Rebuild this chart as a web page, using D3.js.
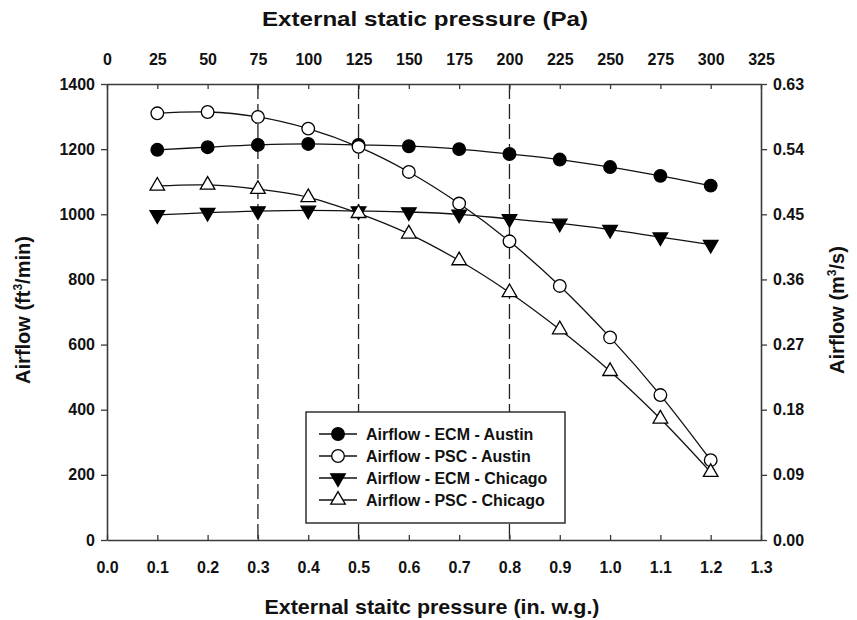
<!DOCTYPE html>
<html>
<head>
<meta charset="utf-8">
<script src="https://cdn.jsdelivr.net/npm/d3@7"></script>
<style>
  html, body { margin: 0; padding: 0; background: #fff; }
  svg text { font-family: "Liberation Sans", Arial, sans-serif; font-weight: bold; fill: #111; }
</style>
</head>
<body>
<svg id="chart" width="857" height="620"></svg>
<script>
// External static pressure (in. w.g.) at each measured point
const pressureInWG = [0.1, 0.2, 0.3, 0.4, 0.5, 0.6, 0.7, 0.8, 0.9, 1.0, 1.1, 1.2];

// Airflow (ft3/min) for each motor / climate combination
const ecmAustin   = [1198, 1206, 1213, 1216, 1213, 1209, 1200, 1185, 1168, 1145, 1118, 1088];
const pscAustin   = [1310, 1314, 1299, 1263, 1207, 1130, 1033, 917, 780, 622, 445, 245];
const ecmChicago  = [998, 1005, 1010, 1012, 1010, 1007, 1000, 986, 972, 953, 930, 907];
const pscChicago  = [1087, 1090, 1077, 1052, 1003, 940, 858, 760, 646, 518, 372, 208];

const seriesNames = ["Airflow - ECM - Austin", "Airflow - PSC - Austin",
                     "Airflow - ECM - Chicago", "Airflow - PSC - Chicago"];

// Reference pressures marked with dashed verticals
const markerPressures = [0.3, 0.5, 0.8];

// Axis ticks
const bottomTicks = [0.0, 0.1, 0.2, 0.3, 0.4, 0.5, 0.6, 0.7, 0.8, 0.9, 1.0, 1.1, 1.2, 1.3];
const topTicks = [0, 25, 50, 75, 100, 125, 150, 175, 200, 225, 250, 275, 300, 325];
const leftTicks = [0, 200, 400, 600, 800, 1000, 1200, 1400];
const rightTicks = [0, 0.09, 0.18, 0.27, 0.36, 0.45, 0.54, 0.63];

const series = [
  { name: seriesNames[0], values: ecmAustin,  symbol: "circle",   filled: true },
  { name: seriesNames[1], values: pscAustin,  symbol: "circle",   filled: false },
  { name: seriesNames[2], values: ecmChicago, symbol: "triDown",  filled: true },
  { name: seriesNames[3], values: pscChicago, symbol: "triUp",    filled: false }
];

const svg = d3.select("#chart");
const plotL = 107, plotR = 761, plotT = 84, plotB = 540;

const x = d3.scaleLinear().domain([0, 1.3]).range([plotL, plotR]);
const xPa = d3.scaleLinear().domain([0, 325]).range([plotL, plotR]);
const y = d3.scaleLinear().domain([0, 1400]).range([plotB, plotT]);
const yM = d3.scaleLinear().domain([0, 0.63]).range([plotB, plotT]);

const axisColor = "#3a3a3a";

// Dashed reference lines
svg.append("g").selectAll("line").data(markerPressures).join("line")
  .attr("x1", d => x(d)).attr("x2", d => x(d))
  .attr("y1", plotT).attr("y2", plotB)
  .attr("stroke", "#222").attr("stroke-width", 1.3)
  .attr("stroke-dasharray", "15,5");

// Axes
function styleAxis(g, fontSize) {
  g.select(".domain").attr("stroke", axisColor).attr("stroke-width", 1.6);
  g.selectAll(".tick line").attr("stroke", axisColor).attr("stroke-width", 1.3);
  g.selectAll(".tick text").attr("font-size", fontSize)
    .attr("font-family", "'Liberation Sans', Arial, sans-serif")
    .attr("font-weight", "bold").attr("fill", "#111");
}

const gBottom = svg.append("g").attr("transform", `translate(0,${plotB})`)
  .call(d3.axisBottom(x).tickValues(bottomTicks).tickFormat(d3.format(".1f"))
    .tickSizeInner(-5).tickSizeOuter(0).tickPadding(22));
styleAxis(gBottom, 16);

const gTop = svg.append("g").attr("transform", `translate(0,${plotT})`)
  .call(d3.axisTop(xPa).tickValues(topTicks).tickFormat(d3.format("d"))
    .tickSizeInner(-5).tickSizeOuter(0).tickPadding(19));
styleAxis(gTop, 16);

const gLeft = svg.append("g").attr("transform", `translate(${plotL},0)`)
  .call(d3.axisLeft(y).tickValues(leftTicks).tickFormat(d3.format("d"))
    .tickSizeInner(6).tickSizeOuter(0).tickPadding(6));
styleAxis(gLeft, 16);

const gRight = svg.append("g").attr("transform", `translate(${plotR},0)`)
  .call(d3.axisRight(yM).tickValues(rightTicks).tickFormat(d3.format(".2f"))
    .tickSizeInner(6).tickSizeOuter(0).tickPadding(6));
styleAxis(gRight, 16);

// Axis titles
svg.append("text").attr("x", 425).attr("y", 26).attr("text-anchor", "middle")
  .attr("font-size", 21).attr("textLength", 326).attr("lengthAdjust", "spacingAndGlyphs")
  .text("External static pressure (Pa)");
svg.append("text").attr("x", 432).attr("y", 614).attr("text-anchor", "middle")
  .attr("font-size", 21).attr("textLength", 335).attr("lengthAdjust", "spacingAndGlyphs")
  .text("External staitc pressure (in. w.g.)");

const yl = svg.append("text").attr("transform", "translate(30,310) rotate(-90)")
  .attr("text-anchor", "middle").attr("font-size", 20);
yl.append("tspan").text("Airflow (ft");
yl.append("tspan").attr("font-size", 12).attr("dy", -8).text("3");
yl.append("tspan").attr("dy", 8).text("/min)");

const yr = svg.append("text").attr("transform", "translate(844,310) rotate(-90)")
  .attr("text-anchor", "middle").attr("font-size", 20);
yr.append("tspan").text("Airflow (m");
yr.append("tspan").attr("font-size", 12).attr("dy", -8).text("3");
yr.append("tspan").attr("dy", 8).text("/s)");

// Marker shapes
const triSize = 92, circR = 6.3;
function drawMarker(sel, s) {
  if (s.symbol === "circle") {
    sel.append("circle").attr("r", circR);
  } else {
    const shape = d3.symbol().type(d3.symbolTriangle).size(triSize);
    sel.append("path").attr("d", shape)
      .attr("transform", s.symbol === "triDown" ? "rotate(180)" : null);
  }
  sel.selectAll("circle, path")
    .attr("fill", s.filled ? "#000" : "#fff")
    .attr("stroke", "#000").attr("stroke-width", 1.3);
}

const line = d3.line().curve(d3.curveCatmullRom.alpha(0.5))
  .x(d => x(d[0])).y(d => y(d[1]));

series.forEach(s => {
  const pts = pressureInWG.map((p, i) => [p, s.values[i]]);
  svg.append("path").datum(pts).attr("d", line)
    .attr("fill", "none").attr("stroke", "#111").attr("stroke-width", 1.3);
  svg.append("g").selectAll("g").data(pts).join("g")
    .attr("transform", d => `translate(${x(d[0])},${y(d[1])})`)
    .each(function () { drawMarker(d3.select(this), s); });
});

// Legend
const lg = svg.append("g");
lg.append("rect").attr("x", 306).attr("y", 412).attr("width", 259).attr("height", 111)
  .attr("fill", "#fff").attr("stroke", "#222").attr("stroke-width", 1.4);
series.forEach((s, i) => {
  const cy = 434 + i * 22;
  lg.append("line").attr("x1", 319).attr("x2", 357).attr("y1", cy).attr("y2", cy)
    .attr("stroke", "#111").attr("stroke-width", 1.3);
  const m = lg.append("g").attr("transform", `translate(338,${cy})`);
  drawMarker(m, s);
  lg.append("text").attr("x", 366).attr("y", cy + 5.5).attr("font-size", 16).text(s.name);
});
</script>
</body>
</html>
